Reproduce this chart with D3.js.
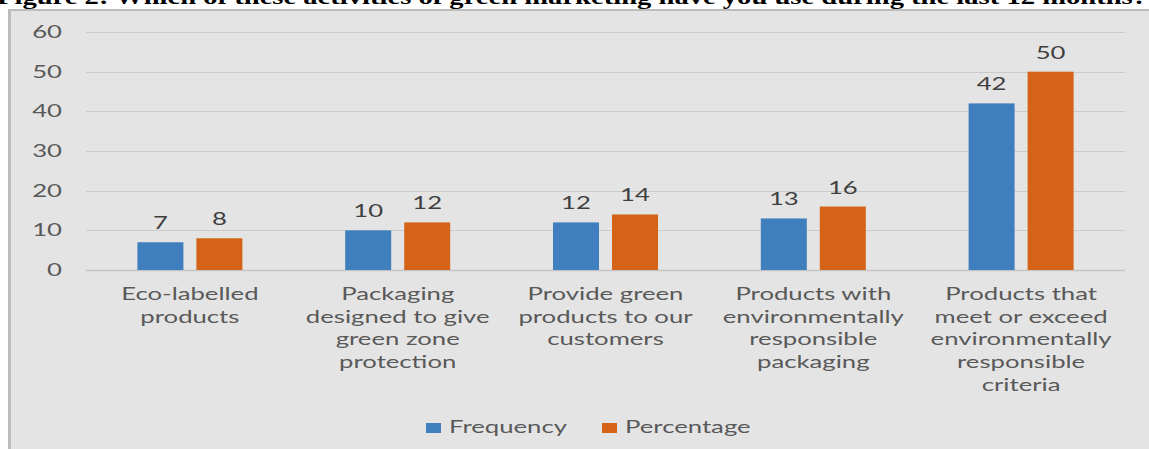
<!DOCTYPE html>
<html>
<head>
<meta charset="utf-8">
<script src="https://cdn.jsdelivr.net/npm/d3@7"></script>
<style>
  html, body { margin: 0; padding: 0; background: #ffffff; }
  svg { display: block; }
</style>
</head>
<body>
<svg id="chart" width="1149" height="449"></svg>
<script>
const title = "Figure 2: Which of these activities of green marketing have you use during the last 12 months?";
const categories = [
  ["Eco-labelled", "products"],
  ["Packaging", "designed to give", "green zone", "protection"],
  ["Provide green", "products to our", "customers"],
  ["Products with", "environmentally", "responsible", "packaging"],
  ["Products that", "meet or exceed", "environmentally", "responsible", "criteria"]
];
const seriesNames = ["Frequency", "Percentage"];
const frequency = [7, 10, 12, 13, 42];
const percentage = [8, 12, 14, 16, 50];
const yTicks = [0, 10, 20, 30, 40, 50, 60];

const colors = { Frequency: "#3f7fbe", Percentage: "#d46317" };
const FONT = "Lato, 'Open Sans', sans-serif";
const FS = 17;

const svg = d3.select("#chart");

// horizontal stretch factor for text (reference text is horizontally stretched)
const probe = svg.append("text").attr("font-family", FONT).attr("font-size", FS).text("Frequency");
const SX = 118 / probe.node().getComputedTextLength();
probe.remove();

// title (clipped at top)
svg.append("text")
  .attr("x", -3).attr("y", 4)
  .attr("font-family", "'Liberation Serif', 'DejaVu Serif', serif")
  .attr("font-weight", "bold")
  .attr("font-size", 22)
  .attr("textLength", 1150)
  .attr("lengthAdjust", "spacingAndGlyphs")
  .attr("fill", "#000")
  .text(title);

// chart background panel
svg.append("rect").attr("x", 8).attr("y", 9).attr("width", 1149).attr("height", 460)
  .attr("fill", "#e4e4e4");
svg.append("line").attr("x1", 8).attr("x2", 1149).attr("y1", 10).attr("y2", 10)
  .attr("stroke", "#bcbcbc").attr("stroke-width", 2);
svg.append("line").attr("x1", 9.5).attr("x2", 9.5).attr("y1", 9).attr("y2", 449)
  .attr("stroke", "#bdbdbd").attr("stroke-width", 3);

const y = d3.scaleLinear().domain([0, 60]).range([270, 32]);
const x0 = d3.scaleBand().domain(d3.range(categories.length)).range([86, 1125]).padding(0);
const groupW = 105;
const x1 = d3.scaleBand().domain(seriesNames).range([0, groupW]).paddingInner(2 - groupW / 59);

function stext(sel, xPos, yPos, anchor) {
  return sel.attr("transform", (d, i) => `translate(${xPos(d, i)},${yPos(d, i)}) scale(${SX},1)`)
    .attr("text-anchor", anchor)
    .attr("font-family", FONT)
    .attr("font-size", FS);
}

// gridlines
svg.append("g").selectAll("line").data(yTicks).join("line")
  .attr("x1", 86).attr("x2", 1125)
  .attr("y1", d => Math.round(y(d)) + 0.5).attr("y2", d => Math.round(y(d)) + 0.5)
  .attr("stroke", d => d === 0 ? "#c4c4c4" : "#cbcbcb").attr("stroke-width", d => d === 0 ? 1.5 : 1);

// y tick labels
stext(svg.append("g").selectAll("text").data(yTicks).join("text"),
  () => 62, d => y(d) + 6, "end")
  .attr("fill", "#595959")
  .text(d => d);

// bars
const data = categories.map((c, i) => ({ i, values: [
  { s: "Frequency", v: frequency[i] },
  { s: "Percentage", v: percentage[i] }
]}));

const groups = svg.append("g").selectAll("g").data(data).join("g")
  .attr("transform", d => `translate(${x0(d.i) + x0.bandwidth() / 2 - groupW / 2},0)`);

groups.selectAll("rect").data(d => d.values).join("rect")
  .attr("x", d => x1(d.s))
  .attr("y", d => y(d.v))
  .attr("width", x1.bandwidth())
  .attr("height", d => y(0) - y(d.v))
  .attr("fill", d => colors[d.s]);

stext(groups.selectAll("text").data(d => d.values).join("text"),
  d => x1(d.s) + x1.bandwidth() / 2, d => y(d.v) - 13, "middle")
  .attr("fill", "#404040")
  .text(d => d.v);

// category labels
const catG = svg.append("g").selectAll("g").data(categories).join("g");
catG.each(function (lines, i) {
  stext(d3.select(this).selectAll("text").data(lines).join("text"),
    () => x0(i) + x0.bandwidth() / 2, (d, j) => 300 + j * 22.7, "middle")
    .attr("fill", "#595959")
    .text(d => d);
});

// legend
const legend = [
  { s: "Frequency", x: 426 },
  { s: "Percentage", x: 602 }
];
const lg = svg.append("g").selectAll("g").data(legend).join("g");
lg.append("rect").attr("x", d => d.x).attr("y", 423).attr("width", 15).attr("height", 10)
  .attr("fill", d => colors[d.s]);
stext(lg.append("text"), d => d.x + 23, () => 433, "start")
  .attr("fill", "#595959")
  .text(d => d.s);
</script>
</body>
</html>
